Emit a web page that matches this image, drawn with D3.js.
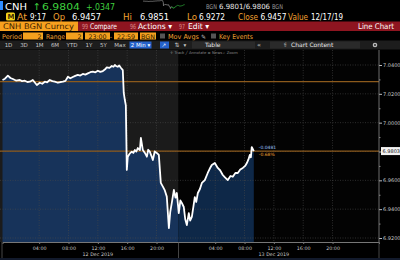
<!DOCTYPE html>
<html>
<head>
<meta charset="utf-8">
<script src="https://cdn.jsdelivr.net/npm/d3@7"></script>
<style>
  body { margin: 0; background: #000; }
  svg { display: block; font-family: "DejaVu Sans", sans-serif; }
</style>
</head>
<body>
<svg width="400" height="260"></svg>
<script>
// price series, 2 min bars (BGN CNH)
const times = [
  "2019-12-11 23:00", "2019-12-11 23:20", "2019-12-11 23:44", "2019-12-12 00:05", "2019-12-12 00:25",
  "2019-12-12 00:50", "2019-12-12 01:22", "2019-12-12 01:40", "2019-12-12 02:03", "2019-12-12 02:24",
  "2019-12-12 02:44", "2019-12-12 03:08", "2019-12-12 03:41", "2019-12-12 04:05", "2019-12-12 04:25",
  "2019-12-12 04:46", "2019-12-12 05:05", "2019-12-12 05:27", "2019-12-12 05:48", "2019-12-12 06:08",
  "2019-12-12 06:33", "2019-12-12 06:55", "2019-12-12 07:14", "2019-12-12 07:35", "2019-12-12 07:55",
  "2019-12-12 08:15", "2019-12-12 08:35", "2019-12-12 08:55", "2019-12-12 09:16", "2019-12-12 09:36",
  "2019-12-12 09:57", "2019-12-12 10:18", "2019-12-12 10:38", "2019-12-12 10:58", "2019-12-12 11:19",
  "2019-12-12 11:40", "2019-12-12 12:00", "2019-12-12 12:20", "2019-12-12 12:41", "2019-12-12 13:00",
  "2019-12-12 13:13", "2019-12-12 13:35", "2019-12-12 13:54", "2019-12-12 14:08", "2019-12-12 14:19",
  "2019-12-12 14:30", "2019-12-12 14:43", "2019-12-12 14:55", "2019-12-12 15:08", "2019-12-12 15:24",
  "2019-12-12 15:32", "2019-12-12 15:41", "2019-12-12 15:49", "2019-12-12 15:57", "2019-12-12 16:05",
  "2019-12-12 16:20", "2019-12-12 16:38", "2019-12-12 16:50", "2019-12-12 17:03", "2019-12-12 17:15",
  "2019-12-12 17:27", "2019-12-12 17:44", "2019-12-12 17:52", "2019-12-12 18:08", "2019-12-12 18:25",
  "2019-12-12 18:41", "2019-12-12 18:52", "2019-12-12 19:05", "2019-12-12 19:18", "2019-12-12 19:30",
  "2019-12-12 19:45", "2019-12-12 20:02", "2019-12-12 20:19", "2019-12-12 20:35", "2019-12-12 20:52",
  "2019-12-12 21:08", "2019-12-12 21:24", "2019-12-12 21:41", "2019-12-12 21:52", "2019-12-12 22:05",
  "2019-12-12 22:22", "2019-12-12 22:35", "2019-12-12 22:46", "2019-12-12 23:02", "2019-12-12 23:15",
  "2019-12-12 23:27", "2019-12-12 23:43", "2019-12-12 23:55", "2019-12-13 00:08", "2019-12-13 00:24",
  "2019-12-13 00:35", "2019-12-13 00:49", "2019-12-13 01:02", "2019-12-13 01:13", "2019-12-13 01:25",
  "2019-12-13 01:38", "2019-12-13 01:55", "2019-12-13 02:11", "2019-12-13 02:35", "2019-12-13 02:59",
  "2019-12-13 03:15", "2019-12-13 03:32", "2019-12-13 03:57", "2019-12-13 04:21", "2019-12-13 04:40",
  "2019-12-13 05:02", "2019-12-13 05:20", "2019-12-13 05:43", "2019-12-13 06:05", "2019-12-13 06:24",
  "2019-12-13 06:45", "2019-12-13 07:05", "2019-12-13 07:25", "2019-12-13 07:46", "2019-12-13 08:05",
  "2019-12-13 08:19", "2019-12-13 08:32", "2019-12-13 08:43", "2019-12-13 08:52", "2019-12-13 08:59",
  "2019-12-13 09:16"
];
const prices = [
  7.0296, 7.0305, 7.0326, 7.0310, 7.0303,
  7.0292, 7.0296, 7.0288, 7.0291, 7.0282,
  7.0284, 7.0296, 7.0261, 7.0277, 7.0270,
  7.0284, 7.0280, 7.0296, 7.0288, 7.0284,
  7.0277, 7.0282, 7.0284, 7.0290, 7.0319,
  7.0308, 7.0317, 7.0325, 7.0331, 7.0327,
  7.0338, 7.0333, 7.0342, 7.0350, 7.0354,
  7.0349, 7.0360, 7.0352, 7.0358, 7.0370,
  7.0384, 7.0380, 7.0393, 7.0388, 7.0400,
  7.0392, 7.0388, 7.0396, 7.0381, 7.0365,
  7.0206, 7.0157, 7.0120, 6.9672, 6.9764,
  6.9785, 6.9799, 6.9790, 6.9810, 6.9800,
  6.9824, 6.9810, 6.9894, 6.9810, 6.9790,
  6.9764, 6.9812, 6.9799, 6.9770, 6.9741,
  6.9800, 6.9790, 6.9776, 6.9582, 6.9556,
  6.9530, 6.9487, 6.9269, 6.9380, 6.9443,
  6.9533, 6.9480, 6.9512, 6.9373, 6.9460,
  6.9443, 6.9415, 6.9330, 6.9290, 6.9373,
  6.9320, 6.9346, 6.9420, 6.9484, 6.9450,
  6.9512, 6.9540, 6.9582, 6.9602, 6.9651,
  6.9680, 6.9706, 6.9720, 6.9686, 6.9670,
  6.9637, 6.9620, 6.9602, 6.9630, 6.9625,
  6.9651, 6.9651, 6.9675, 6.9686, 6.9700,
  6.9720, 6.9745, 6.9776, 6.9760, 6.9831,
  6.9803
];
const yTicks = [7.04, 7.02, 7.00, 6.98, 6.96, 6.94, 6.92];
const tickHours = ["04:00", "08:00", "12:00", "16:00", "20:00"];
const days = ["2019-12-12", "2019-12-13"];
const dayLabels = ["12 Dec 2019", "13 Dec 2019"];
const refPrice = 7.0284;
const lastPrice = 6.9803;
const changeLabels = ["-0.0481", "-0.68%"];

const parse = d3.timeParse("%Y-%m-%d %H:%M");
const data = times.map((t, i) => ({ t: parse(t), v: prices[i] }));

const svg = d3.select("svg");
const plotTop = 50, plotBottom = 242, plotRight = 379;

const x = d3.scaleTime()
  .domain([parse("2019-12-11 23:00"), parse("2019-12-14 02:20")])
  .range([2.5, plotRight]);
const y = d3.scaleLinear().domain([6.92, 7.04]).range([238, 65]);
const split = x(parse("2019-12-12 23:00"));

svg.append("rect").attr("width", 400).attr("height", 260).attr("fill", "#000");

// text helper, w = width to squeeze into
function txt(g, xx, yy, s, col, size, opts) {
  opts = opts || {};
  const t = g.append("text").attr("x", xx).attr("y", yy).text(s)
    .attr("fill", col).attr("font-size", size);
  if (opts.bold) t.attr("font-weight", "bold");
  if (opts.anchor) t.attr("text-anchor", opts.anchor);
  if (opts.w) t.attr("textLength", opts.w).attr("lengthAdjust", "spacingAndGlyphs");
  return t;
}
const hdr = svg.append("g");

// row 1
hdr.append("rect").attr("x", 0).attr("y", 1).attr("width", 3).attr("height", 9).attr("fill", "#2f8cff");
txt(hdr, 5, 9.5, "CNH", "#fff", 9.5, { w: 22 });
txt(hdr, 33, 9.5, "\u2191", "#3fd13f", 9.5);
txt(hdr, 42, 9.5, "6.9804", "#3fd13f", 9.5, { w: 38 });
txt(hdr, 86, 9.5, "+.0347", "#3fd13f", 9.5, { w: 29 });
txt(hdr, 206, 8.5, "BGN", "#9a9a9a", 6.5, { w: 11 });
txt(hdr, 219, 8.5, "6.9801/6.9806", "#e8e8e8", 7.2, { w: 51 });
txt(hdr, 272, 8.5, "BGN", "#9a9a9a", 6.5, { w: 11 });

// mini sparkline from the same series
const sx = d3.scaleTime().domain(x.domain()).range([143, 205]);
const sy = d3.scaleLinear().domain([6.92, 7.04]).range([9, 0.5]);
const sline = d3.line().x(d => sx(d.t)).y(d => sy(d.v));
hdr.append("path").datum(data.filter(d => d.t < parse("2019-12-12 23:00")))
  .attr("d", sline).attr("fill", "none").attr("stroke", "#8a8a8a").attr("stroke-width", 0.8);
hdr.append("path").datum(data.filter(d => d.t >= parse("2019-12-12 22:46")))
  .attr("d", sline).attr("fill", "none").attr("stroke", "#2faa3a").attr("stroke-width", 0.8);

// row 2
hdr.append("rect").attr("x", 6).attr("y", 12.5).attr("width", 9).attr("height", 8).attr("rx", 1.5).attr("fill", "#f2d21b");
txt(hdr, 7.5, 19.3, "M", "#3a2a00", 7, { bold: true });
const amber = "#f0a030";
txt(hdr, 17, 19.5, "At", amber, 8.5, { w: 10 });
txt(hdr, 30, 19.5, "9:17", "#fff", 8.5, { w: 16 });
txt(hdr, 53, 19.5, "Op", amber, 8.5, { w: 12 });
txt(hdr, 72, 19.5, "6.9457", "#fff", 8.5, { w: 29 });
txt(hdr, 123, 19.5, "Hi", amber, 8.5, { w: 9 });
txt(hdr, 140, 19.5, "6.9851", "#fff", 8.5, { w: 29 });
txt(hdr, 187, 19.5, "Lo", amber, 8.5, { w: 10 });
txt(hdr, 199, 19.5, "6.9272", "#fff", 8.5, { w: 26 });
txt(hdr, 238, 19.5, "Close", amber, 8.5, { w: 20 });
txt(hdr, 260.5, 19.5, "6.9457", "#fff", 8.5, { w: 26 });
txt(hdr, 288, 19.5, "Value", amber, 8.5, { w: 20 });
txt(hdr, 311, 19.5, "12/17/19", "#fff", 8.5, { w: 32 });

// row 3
hdr.append("rect").attr("x", 0).attr("y", 21.5).attr("width", 78).attr("height", 9.5).attr("fill", "#f7a11f");
txt(hdr, 3, 29.3, "CNH BGN Curncy", "#3d1f00", 7.8, { w: 71 });
hdr.append("rect").attr("x", 78).attr("y", 21.5).attr("width", 322).attr("height", 9.5).attr("fill", "#8e1520");
txt(hdr, 82, 29.3, "99", "#d98a8a", 7, { w: 6 });
txt(hdr, 90, 29.3, "Compare", "#fff", 7.8, { w: 27 });
txt(hdr, 130, 29.3, "96", "#d98a8a", 7, { w: 6 });
txt(hdr, 138, 29.3, "Actions \u25BE", "#fff", 7.8, { w: 34 });
txt(hdr, 179, 29.3, "97", "#d98a8a", 7, { w: 6 });
txt(hdr, 188, 29.3, "Edit \u25BE", "#fff", 7.8, { w: 21 });
txt(hdr, 358, 29.3, "Line Chart", "#fff", 7.8, { w: 36 });

// row 4
const fld = "#f3a01e";
txt(hdr, 2, 38.5, "Period", amber, 6.5, { w: 20 });
txt(hdr, 46, 38.5, "Range", amber, 6.5, { w: 19 });
[[23, 20, "2"], [66, 17, "2"], [85, 25, "23:00"], [114, 24, "22:59"], [140, 16, "BGN"]].forEach(([a, w, s], i) => {
  hdr.append("rect").attr("x", a).attr("y", 32.5).attr("width", w).attr("height", 7).attr("fill", fld);
  txt(hdr, i < 2 ? a + w - 1.5 : a + w / 2, 38.5, s, "#2b1600", 6.3, { anchor: i < 2 ? "end" : "middle" });
});
txt(hdr, 111, 38.5, "-", amber, 6.5, { anchor: "middle" });
hdr.append("rect").attr("x", 160).attr("y", 33.5).attr("width", 5).attr("height", 5).attr("fill", "#555");
txt(hdr, 168, 38.8, "Mov Avgs", amber, 6.8, { w: 31 });
txt(hdr, 201, 38.8, "\u270E", "#bbb", 6);
hdr.append("rect").attr("x", 211).attr("y", 33.5).attr("width", 5).attr("height", 5).attr("fill", "#555");
txt(hdr, 219, 38.8, "Key Events", amber, 6.8, { w: 34 });

// row 5
hdr.append("rect").attr("x", 0).attr("y", 40.5).attr("width", 400).attr("height", 9).attr("fill", "#1d1d1d");
[["1D", 8.5], ["3D", 24], ["1M", 39.5], ["6M", 55], ["YTD", 72], ["1Y", 89], ["5Y", 103.5], ["Max", 120]].forEach(([s, cx]) => {
  txt(hdr, cx, 47, s, "#c8c8c8", 5.5, { anchor: "middle" });
});
hdr.append("rect").attr("x", 129.5).attr("y", 41.5).attr("width", 22).attr("height", 7).attr("fill", "#2561c9");
txt(hdr, 140.5, 47, "2 Min \u25BE", "#fff", 5.5, { anchor: "middle" });
hdr.append("rect").attr("x", 160).attr("y", 41.5).attr("width", 9).attr("height", 7).attr("fill", "#2561c9");
txt(hdr, 161.5, 47, "\u2197", "#fff", 5.5);
txt(hdr, 177, 47.3, "\u21C5", "#c8c8c8", 6, { anchor: "middle" });
txt(hdr, 185, 47, "\u25BE", "#c8c8c8", 5.5, { anchor: "middle" });
hdr.append("rect").attr("x", 192).attr("y", 41.5).attr("width", 63).attr("height", 7).attr("fill", "#2a2a2a");
txt(hdr, 205, 47, "Table", "#e8e8e8", 6);
txt(hdr, 259, 47, "\u00AB", "#c8c8c8", 6.5, { anchor: "middle" });
hdr.append("rect").attr("x", 270).attr("y", 41.5).attr("width", 90).attr("height", 7).attr("fill", "#2a2a2a");
txt(hdr, 284, 47, "\u2AC1", "#c8c8c8", 5.5);
txt(hdr, 291, 47, "Chart Content", "#e8e8e8", 6);
hdr.append("circle").attr("cx", 375).attr("cy", 45).attr("r", 2.3).attr("fill", "#bbb");
hdr.append("circle").attr("cx", 375).attr("cy", 45).attr("r", 0.9).attr("fill", "#1d1d1d");

// ---- chart ----
const chart = svg.append("g");
chart.append("rect").attr("x", 0).attr("y", plotTop).attr("width", split).attr("height", plotBottom - plotTop).attr("fill", "#1b1b1b");
chart.append("rect").attr("x", split).attr("y", plotTop).attr("width", plotRight - split).attr("height", plotBottom - plotTop).attr("fill", "#030303");

const defs = svg.append("defs");
defs.append("clipPath").attr("id", "c1").append("rect").attr("x", 0).attr("y", plotTop).attr("width", split).attr("height", 200);
defs.append("clipPath").attr("id", "c2").append("rect").attr("x", split).attr("y", plotTop).attr("width", 400).attr("height", 200);

const area = d3.area().x(d => x(d.t)).y0(plotBottom).y1(d => y(d.v));
chart.append("path").datum(data).attr("d", area).attr("fill", "#17335a").attr("clip-path", "url(#c1)");
chart.append("path").datum(data).attr("d", area).attr("fill", "#0e2848").attr("clip-path", "url(#c2)");

// grid
const grid = chart.append("g").attr("stroke", "#4a4a4a").attr("stroke-width", 0.6).attr("stroke-dasharray", "1,1.5");
yTicks.forEach(v => grid.append("line").attr("x1", 0).attr("x2", plotRight).attr("y1", y(v)).attr("y2", y(v)));
const tickDates = [];
days.forEach(d => tickHours.forEach(h => tickDates.push(parse(d + " " + h))));
tickDates.forEach(t => grid.append("line").attr("x1", x(t)).attr("x2", x(t)).attr("y1", plotTop).attr("y2", plotBottom));

// reference lines
[refPrice, lastPrice].forEach(v => chart.append("line")
  .attr("x1", 0).attr("x2", plotRight).attr("y1", y(v)).attr("y2", y(v))
  .attr("stroke", "#8c5a1c").attr("stroke-width", 1.3));

// price line
chart.append("path").datum(data)
  .attr("d", d3.line().x(d => x(d.t)).y(d => y(d.v)))
  .attr("fill", "none").attr("stroke", "#fff").attr("stroke-width", 1.8).attr("stroke-linejoin", "round");

// change labels
const last = data[data.length - 1];
txt(chart, x(last.t) + 5, y(lastPrice) - 2, changeLabels[0], "#9fc3ff", 4.5);
txt(chart, x(last.t) + 5, y(lastPrice) + 4.5, changeLabels[1], "#f0a030", 4.5);

// small toolbar
txt(chart, 170, 53.5, "\u271B Track   \u2571 Annotate   \u2261 News   \u2315 Zoom", "#8a8a8a", 3.8);

// right axis
const ya = svg.append("g").attr("transform", `translate(${plotRight},0)`)
  .call(d3.axisRight(y).tickValues(yTicks).tickFormat(d3.format(".4f")).tickSize(3));
ya.select(".domain").remove();
ya.selectAll("line").attr("stroke", "#bbb");
ya.selectAll("text").attr("fill", "#c8c8c8").attr("font-size", 5).attr("x", 4).attr("font-family", "DejaVu Sans");
svg.append("g").attr("transform", `translate(${plotRight},0)`)
  .call(d3.axisRight(y).tickValues([7.03, 7.01, 6.99, 6.97, 6.95, 6.93]).tickFormat("").tickSize(1.5))
  .call(g => g.select(".domain").remove())
  .selectAll("line").attr("stroke", "#888");
svg.append("line").attr("x1", plotRight).attr("x2", plotRight).attr("y1", plotTop).attr("y2", plotBottom + 1)
  .attr("stroke", "#8a8a8a").attr("stroke-width", 0.8);

// last price tag
svg.append("rect").attr("x", plotRight + 2).attr("y", y(lastPrice) - 4).attr("width", 19).attr("height", 8).attr("fill", "#f2f2f2");
txt(svg, plotRight + 3.5, y(lastPrice) + 2, "6.9803", "#111", 5);

// bottom axis
svg.append("rect").attr("x", 0).attr("y", plotBottom).attr("width", 400).attr("height", 18).attr("fill", "#000");
const xa = svg.append("g").attr("transform", `translate(0,${plotBottom})`)
  .call(d3.axisBottom(x).tickValues(tickDates).tickFormat(d3.timeFormat("%H:%M")).tickSize(2));
xa.select(".domain").attr("stroke", "#777");
xa.selectAll("line").attr("stroke", "#777");
xa.selectAll("text").attr("fill", "#c8c8c8").attr("font-size", 4.8).attr("font-family", "DejaVu Sans").attr("dy", "0.55em");
days.forEach((d, i) => txt(svg, x(parse(d + " 12:00")), 256, dayLabels[i], "#c8c8c8", 4.8, { anchor: "middle" }));
[2, split, plotRight].forEach(xx => svg.append("line").attr("x1", xx).attr("x2", xx).attr("y1", plotBottom).attr("y2", 258)
  .attr("stroke", "#666").attr("stroke-width", 0.7));
svg.append("rect").attr("x", 0).attr("y", 258).attr("width", 400).attr("height", 2).attr("fill", "#121a2c");
</script>
</body>
</html>
